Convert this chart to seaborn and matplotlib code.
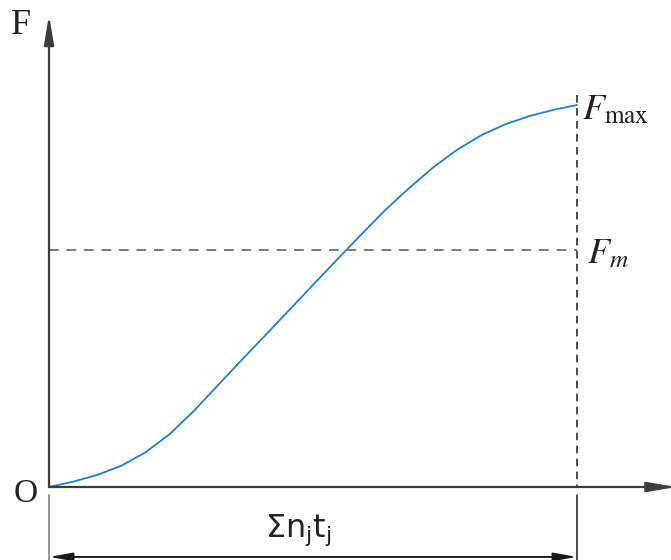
import matplotlib
matplotlib.use("Agg")
import matplotlib.pyplot as plt
import seaborn as sns
import pandas as pd

# Cumulative load F versus cumulative work time sum(n_j t_j), normalised to 0..1
t_values = [0.0, 0.0455, 0.0909, 0.1364, 0.1818, 0.2273, 0.2727, 0.3182,
            0.3636, 0.4091, 0.4545, 0.5, 0.5455, 0.5909, 0.6364, 0.6818,
            0.7273, 0.7727, 0.8182, 0.8636, 0.9091, 0.9545, 1.0]
f_values = [0.0, 0.0138, 0.0314, 0.0553, 0.0898, 0.1370, 0.1966, 0.2639,
            0.3305, 0.3964, 0.4624, 0.5290, 0.5950, 0.6603, 0.7244, 0.7822,
            0.8362, 0.8827, 0.9204, 0.9493, 0.9707, 0.9870, 1.0]
f_max = 1.0
f_mean = 0.62

df = pd.DataFrame({"t": t_values, "F": f_values})

sns.set_style("white")

fig = plt.figure(figsize=(6.71, 5.60), dpi=100)
ax = fig.add_axes([0, 0, 1, 1])
ax.set_xlim(-49 / 528, 622 / 528)
ax.set_ylim(-73 / 382, 487 / 382)
ax.axis("off")

axis_col = "#3c3c3c"

# curve
sns.lineplot(data=df, x="t", y="F", ax=ax, color="#1f7fd6", lw=1.3, sort=False)

# coordinate axes with arrow heads
arrow_style = "-|>,head_length=1.75,head_width=0.30"
ax.annotate("", xy=(0, 1.235), xytext=(0, 0), annotation_clip=False,
            arrowprops=dict(arrowstyle=arrow_style, color=axis_col, lw=1.6,
                            mutation_scale=10, shrinkA=0, shrinkB=0))
ax.annotate("", xy=(1.188, 0), xytext=(0, 0), annotation_clip=False,
            arrowprops=dict(arrowstyle=arrow_style, color=axis_col, lw=1.6,
                            mutation_scale=10, shrinkA=0, shrinkB=0))

# reference lines
ax.plot([0, 1], [f_mean, f_mean], color="#7a7a7a", lw=1.4, ls=(0, (5, 4)))
ax.plot([1, 1], [1.026, 0], color="#1a1a1a", lw=1.1, ls=(0, (5, 3.5)))

# extension lines and dimension arrow under the axis
ax.plot([0, 0], [-0.021, -0.191], color="#8a8a8a", lw=1.3)
ax.plot([1, 1], [-0.021, -0.191], color="#1a1a1a", lw=1.1)
ax.annotate("", xy=(0, -0.183), xytext=(1, -0.183), annotation_clip=False,
            arrowprops=dict(arrowstyle="<|-|>,head_length=1.4,head_width=0.25",
                            color="#1a1a1a", lw=1.3, mutation_scale=10,
                            shrinkA=0, shrinkB=0))
ax.plot([0.02, 0.98], [-0.183, -0.183], color="#8a8a8a", lw=1.3)

# labels
serif = ["Liberation Serif", "DejaVu Serif"]
ax.text(-0.053, 1.207, "F", fontsize=26, family=serif, ha="center", va="center",
        color="#222222")
ax.text(-0.045, -0.018, "O", fontsize=24, family=serif, ha="center", va="center",
        color="#222222")
ax.text(1.009, f_max - 0.037, r"$F_{\mathrm{max}}$", fontsize=26,
        math_fontfamily="stix", ha="left", va="baseline", color="#222222")
ax.text(1.019, f_mean - 0.034, r"$F_m$", fontsize=26,
        math_fontfamily="stix", ha="left", va="baseline", color="#222222")
ax.text(0.473, -0.131, r"$\mathrm{\Sigma n_j t_j}$", fontsize=23,
        math_fontfamily="dejavusans", ha="center", va="baseline", color="#222222")

fig.savefig("out.png", dpi=100)
